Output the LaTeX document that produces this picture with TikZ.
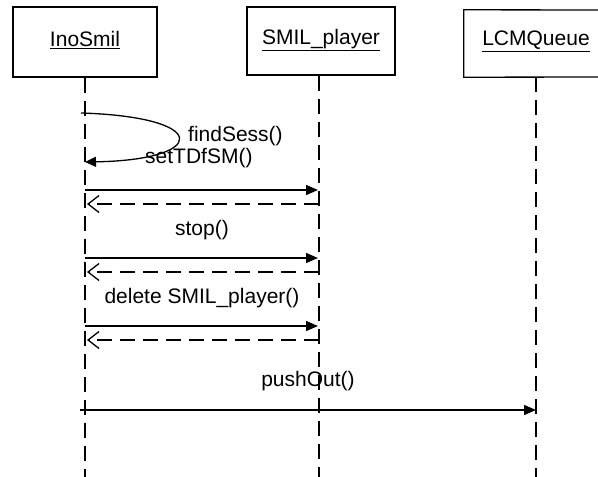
\documentclass[tikz,border=0pt]{standalone}
\usepackage{fontspec}
\setmainfont{Liberation Sans}
\usetikzlibrary{arrows.meta}

\begin{document}
\begin{tikzpicture}[x=1pt, y=-1pt,
  font=\fontsize{21}{25}\selectfont,
  objbox/.style={draw, line width=1.3pt, fill=white, inner sep=0pt},
  lifeline/.style={line width=1.4pt, dash pattern=on 15pt off 8pt},
  callmsg/.style={line width=1.4pt, -{Triangle[length=12pt,width=10pt]}},
  retmsg/.style={line width=1.3pt, dash pattern=on 15pt off 8pt,
                 -{Straight Barb[length=11pt,width=17pt,line width=1.3pt]}},
  msglabel/.style={inner sep=0pt}
]
\useasboundingbox (0,0) rectangle (598,477);
\fill[white] (0,0) rectangle (598,477);

% object boxes; the LCMQueue box runs off the right margin, so it is open there
\node[objbox, minimum width=144pt, minimum height=70pt] (ino) at (85,42) {};
\node[objbox, minimum width=148pt, minimum height=68pt] (smil) at (321,41) {};
\node[inner sep=0pt, minimum width=144pt, minimum height=67pt] (lcm) at (536,43.5) {};
\coordinate (lcmTR) at (620,10);
\coordinate (lcmBR) at (620,77);
\draw[line width=1.3pt] (lcmTR) -- (lcm.north west) -- (lcm.south west) -- (lcmBR);
\node[inner sep=0pt] (inoT) at (85,40) {\underline{InoSmil}};
\node[inner sep=0pt] (smilT) at (321,40) {\underline{SMIL\_player}};
\node[inner sep=0pt] (lcmT) at (536,41) {\underline{LCMQueue}};

% lifelines
\coordinate (inoEnd) at (85,477);
\coordinate (smilEnd) at (319,477);
\coordinate (lcmEnd) at (536,477);
\draw[lifeline] (ino.south -| inoEnd) -- (inoEnd);
\draw[lifeline] (smil.south -| smilEnd) -- (smilEnd);
\draw[lifeline] (lcm.south -| lcmEnd) -- (lcmEnd);

% self call on InoSmil
\coordinate (selfA) at (81,113);
\coordinate (selfB) at (85,162);
\draw[line width=1.3pt, -{Triangle[length=11pt,width=10pt]}]
  (selfA) .. controls (212,117) and (208,160) .. (selfB);
\node[msglabel, anchor=west] (findL) at (188,136) {findSess()};
\node[msglabel, anchor=west] (setL) at (145,158) {setTDfSM()};

% message anchors on the lifelines
\coordinate (a1) at (85,190);  \coordinate (b1) at (318,190);
\coordinate (a1r) at (87,204); \coordinate (b1r) at (319,204);
\coordinate (a2) at (85,258);  \coordinate (b2) at (318,258);
\coordinate (a2r) at (87,272); \coordinate (b2r) at (319,272);
\coordinate (a3) at (85,326);  \coordinate (b3) at (318,326);
\coordinate (a3r) at (87,340); \coordinate (b3r) at (319,340);
\coordinate (a4) at (80,410);  \coordinate (c4) at (536,410);

\draw[callmsg] (a1) -- (b1);
\draw[retmsg] (b1r) -- (a1r);

\node[msglabel] (stopL) at (202,230) {stop()};
\draw[callmsg] (a2) -- (b2);
\draw[retmsg] (b2r) -- (a2r);

\node[msglabel] (delL) at (202,298) {delete SMIL\_player()};
\draw[callmsg] (a3) -- (b3);
\draw[retmsg] (b3r) -- (a3r);

\node[msglabel] (pushL) at (308,381) {pushOut()};
\draw[callmsg] (a4) -- (c4);
\end{tikzpicture}
\end{document}
